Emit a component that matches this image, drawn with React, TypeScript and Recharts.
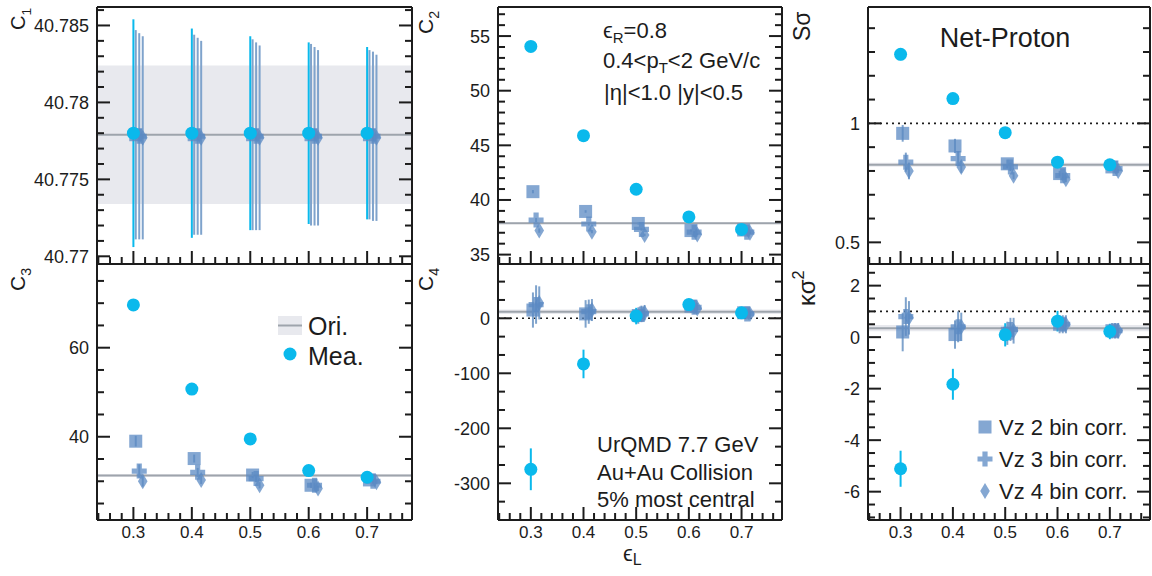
import React from 'react';
import {
    ComposedChart,
    Scatter,
    XAxis,
    YAxis,
    ErrorBar,
    ReferenceLine,
    ReferenceArea,
} from 'recharts';

// eps_L values and small x offsets of the three Vz-corrected series
const epsL = [0.3, 0.4, 0.5, 0.6, 0.7];
const vzShift = [0.004, 0.01, 0.016];
const xMajor = [0.3, 0.4, 0.5, 0.6, 0.7];

// C1
const c1Mea = [40.778, 40.778, 40.778, 40.778, 40.778];
const c1MeaErr = [0.0074, 0.0068, 0.0063, 0.0059, 0.0056];
const c1Vz2 = [40.7779, 40.7779, 40.7779, 40.7779, 40.7779];
const c1Vz2Err = [0.0068, 0.0065, 0.0062, 0.0059, 0.0055];
const c1Vz3 = [40.7778, 40.7778, 40.7778, 40.7778, 40.7778];
const c1Vz3Err = [0.0067, 0.0064, 0.0061, 0.0058, 0.0055];
const c1Vz4 = [40.7777, 40.7777, 40.7777, 40.7777, 40.7777];
const c1Vz4Err = [0.0066, 0.0063, 0.006, 0.0057, 0.0054];
const c1Ori = 40.7779;
const c1OriErr = 0.0045;

// C2
const c2Mea = [54.05, 45.88, 40.98, 38.45, 37.3];
const c2MeaErr = [0.15, 0.12, 0.1, 0.1, 0.1];
const c2Vz2 = [40.76, 38.95, 37.85, 37.2, 37.25];
const c2Vz2Err = [0.15, 0.12, 0.1, 0.1, 0.1];
const c2Vz3 = [38.16, 37.8, 37.3, 37.05, 37.05];
const c2Vz3Err = [0.2, 0.15, 0.12, 0.1, 0.1];
const c2Vz4 = [37.2, 37.1, 36.8, 36.85, 37.0];
const c2Vz4Err = [0.2, 0.15, 0.12, 0.1, 0.1];
const c2Ori = 37.88;
const c2OriErr = 0.08;

// S sigma
const ssMea = [1.29, 1.104, 0.961, 0.837, 0.826];
const ssMeaErr = [0.025, 0.015, 0.01, 0.008, 0.006];
const ssVz2 = [0.958, 0.905, 0.83, 0.789, 0.817];
const ssVz2Err = [0.035, 0.03, 0.018, 0.012, 0.008];
const ssVz3 = [0.837, 0.852, 0.817, 0.78, 0.81];
const ssVz3Err = [0.04, 0.03, 0.018, 0.012, 0.008];
const ssVz4 = [0.8, 0.817, 0.78, 0.765, 0.8];
const ssVz4Err = [0.035, 0.025, 0.015, 0.012, 0.008];
const ssOri = 0.826;
const ssOriErr = 0.008;

// C3
const c3Mea = [69.6, 50.7, 39.5, 32.4, 30.9];
const c3MeaErr = [1.2, 0.8, 0.6, 0.5, 0.4];
const c3Vz2 = [39.0, 35.1, 31.4, 29.1, 30.3];
const c3Vz2Err = [1.2, 0.9, 0.7, 0.6, 0.5];
const c3Vz3 = [32.3, 32.0, 30.6, 29.1, 30.0];
const c3Vz3Err = [1.5, 1.0, 0.8, 0.6, 0.5];
const c3Vz4 = [30.0, 30.3, 29.1, 28.4, 29.8];
const c3Vz4Err = [1.2, 0.9, 0.7, 0.6, 0.5];
const c3Ori = 31.3;
const c3OriErr = 0.3;

// C4
const c4Mea = [-274.5, -83, 4, 25, 10];
const c4MeaErr = [38, 26, 15, 10, 6];
const c4Vz2 = [15, 8, 5, 22, 10];
const c4Vz2Err = [32, 25, 15, 12, 8];
const c4Vz3 = [25, 12, 8, 20, 8];
const c4Vz3Err = [35, 22, 15, 12, 8];
const c4Vz4 = [28, 15, 10, 18, 8];
const c4Vz4Err = [30, 20, 14, 10, 8];
const c4Ori = 12;
const c4OriErr = 4;

// kappa sigma^2
const ksMea = [-5.11, -1.83, 0.09, 0.62, 0.22];
const ksMeaErr = [0.7, 0.6, 0.45, 0.4, 0.3];
const ksVz2 = [0.2, 0.1, 0.15, 0.5, 0.25];
const ksVz2Err = [0.75, 0.55, 0.45, 0.35, 0.3];
const ksVz3 = [0.8, 0.4, 0.3, 0.5, 0.25];
const ksVz3Err = [0.75, 0.6, 0.45, 0.35, 0.3];
const ksVz4 = [0.75, 0.4, 0.25, 0.5, 0.25];
const ksVz4Err = [0.65, 0.55, 0.5, 0.35, 0.3];
const ksOri = 0.35;
const ksOriErr = 0.12;

const legendVz = ['Vz 2 bin corr.', 'Vz 3 bin corr.', 'Vz 4 bin corr.'];

const steps = (a: number, b: number, s: number) => {
    const out: number[] = [];
    for (let k = 0; a + k * s <= b + 1e-9; k++) out.push(+(a + k * s).toFixed(6));
    return out;
};

const INK = '#1c1c1c';
const MEA = '#0ab9ec';
const VZ = '#5b8ac3';
const VZ_ERR = '#7fa3cc';
const ORI = '#9ea4ac';
const BAND = '#e8e9ee';
const FONT = '"Liberation Sans", Arial, Helvetica, sans-serif';

const xDomain: [number, number] = [0.2377, 0.7768];
const xTicks = steps(0.24, 0.76, 0.02);

const isIn = (list: number[], v: number) => list.some(m => Math.abs(m - v) < 1e-7);

function makeTick(side: 'left' | 'right' | 'top' | 'bottom', majors: number[], withLabel: boolean, fontSize = 18) {
    return (p: any) => {
        const { x, y, payload } = p;
        const v = payload.value;
        const major = isIn(majors, v);
        const len = major ? 13 : 7;
        let x2 = x;
        let y2 = y;
        if (side === 'left') x2 = x + len;
        if (side === 'right') x2 = x - len;
        if (side === 'top') y2 = y + len;
        if (side === 'bottom') y2 = y - len;
        return (
            <g>
                <line x1={x} y1={y} x2={x2} y2={y2} stroke={INK} strokeWidth={2} />
                {withLabel && major && side === 'left' && (
                    <text x={x - 8} y={y} dy="0.36em" textAnchor="end" fontSize={fontSize} fill={INK} fontFamily={FONT}>
                        {String(v)}
                    </text>
                )}
                {withLabel && major && side === 'bottom' && (
                    <text x={x} y={y + 18} textAnchor="middle" fontSize={17} fill={INK} fontFamily={FONT}>
                        {String(v)}
                    </text>
                )}
            </g>
        );
    };
}

const MeaDot = (p: any) => <circle cx={p.cx} cy={p.cy} r={6.5} fill={MEA} />;
const SquareDot = (p: any) => (
    <rect x={p.cx - 6.5} y={p.cy - 6.5} width={13} height={13} fill={VZ} fillOpacity={0.75} />
);
const plusPath = (cx: number, cy: number) =>
    `M${cx - 2.6},${cy - 7.5}H${cx + 2.6}V${cy - 2.6}H${cx + 7.5}V${cy + 2.6}H${cx + 2.6}V${cy + 7.5}H${cx - 2.6}V${cy + 2.6}H${cx - 7.5}V${cy - 2.6}H${cx - 2.6}Z`;
const PlusDot = (p: any) => <path d={plusPath(p.cx, p.cy)} fill={VZ} fillOpacity={0.75} />;
const diamondPath = (cx: number, cy: number) => `M${cx},${cy - 8}L${cx + 4.8},${cy}L${cx},${cy + 8}L${cx - 4.8},${cy}Z`;
const DiamondDot = (p: any) => <path d={diamondPath(p.cx, p.cy)} fill={VZ} fillOpacity={0.75} />;

const vzShapes = [SquareDot, PlusDot, DiamondDot];

const toPoints = (vals: number[], errs: number[], shift = 0) =>
    epsL.map((e, i) => ({ x: +(e + shift).toFixed(4), y: vals[i], err: errs[i] }));

interface PanelProps {
    left: number;
    top: number;
    width: number;
    height: number;
    margin: { top: number; right: number; bottom: number; left: number };
    yDomain: [number, number];
    yMajor: number[];
    yTicks: number[];
    xLabels: boolean;
    mea: number[];
    meaErr: number[];
    vz: number[][];
    vzErr: number[][];
    ori: number;
    oriErr: number;
    dotted?: number;
}

function Panel(props: PanelProps) {
    const { left, top, width, height, margin, yDomain, yMajor, yTicks, xLabels, mea, meaErr, vz, vzErr, ori, oriErr, dotted } = props;
    const axisLine = { stroke: INK, strokeWidth: 2 };
    // the axes take 1px each, so the margins shrink by one
    const m = { top: margin.top - 1, right: margin.right - 1, bottom: margin.bottom - 1, left: margin.left - 1 };
    return (
        <div style={{ position: 'absolute', left, top, width, height }}>
            <ComposedChart width={width} height={height} margin={m}>
                <XAxis
                    type="number"
                    dataKey="x"
                    domain={xDomain}
                    allowDataOverflow
                    ticks={xTicks}
                    interval={0}
                    tickSize={0}
                    tickMargin={0}
                    height={1}
                    axisLine={axisLine}
                    tick={makeTick('bottom', xMajor, xLabels)}
                />
                <XAxis
                    xAxisId="t"
                    orientation="top"
                    type="number"
                    domain={xDomain}
                    allowDataOverflow
                    ticks={xTicks}
                    interval={0}
                    tickSize={0}
                    tickMargin={0}
                    height={1}
                    axisLine={axisLine}
                    tick={makeTick('top', xMajor, false)}
                />
                <YAxis
                    type="number"
                    dataKey="y"
                    domain={yDomain}
                    allowDataOverflow
                    ticks={yTicks}
                    interval={0}
                    tickSize={0}
                    tickMargin={0}
                    width={1}
                    axisLine={axisLine}
                    tick={makeTick('left', yMajor, true)}
                />
                <YAxis
                    yAxisId="r"
                    orientation="right"
                    type="number"
                    domain={yDomain}
                    allowDataOverflow
                    ticks={yTicks}
                    interval={0}
                    tickSize={0}
                    tickMargin={0}
                    width={1}
                    axisLine={axisLine}
                    tick={makeTick('right', yMajor, false)}
                />
                <ReferenceArea y1={ori - oriErr} y2={ori + oriErr} fill={BAND} fillOpacity={1} stroke="none" ifOverflow="hidden" />
                <ReferenceLine y={ori} stroke={ORI} strokeWidth={2} />
                {dotted !== undefined && (
                    <ReferenceLine y={dotted} stroke={INK} strokeWidth={1.6} strokeDasharray="2 4" />
                )}
                {[2, 1, 0].map(k => (
                    <Scatter
                        key={k}
                        data={toPoints(vz[k], vzErr[k], vzShift[k])}
                        shape={vzShapes[k]}
                        isAnimationActive={false}
                    >
                        <ErrorBar dataKey="err" direction="y" width={0} stroke={VZ_ERR} strokeWidth={2} />
                    </Scatter>
                ))}
                <Scatter data={toPoints(mea, meaErr)} shape={MeaDot} isAnimationActive={false}>
                    <ErrorBar dataKey="err" direction="y" width={0} stroke={MEA} strokeWidth={2} />
                </Scatter>
            </ComposedChart>
        </div>
    );
}

function RotLabel({ x, y, main, sub, sup, size = 21 }: { x: number; y: number; main: string; sub?: string; sup?: string; size?: number }) {
    return (
        <text transform={`translate(${x},${y}) rotate(-90)`} fontSize={size} fill={INK} fontFamily={FONT}>
            {main}
            {sub && (
                <tspan fontSize={size * 0.68} dy={size * 0.3}>
                    {sub}
                </tspan>
            )}
            {sup && (
                <tspan fontSize={size * 0.68} dy={-size * 0.45}>
                    {sup}
                </tspan>
            )}
        </text>
    );
}

export default function App() {
    const topMargin = { top: 7, right: 0, bottom: 6, left: 0 };
    const botMargin = { top: 8, right: 0, bottom: 56, left: 0 };
    return (
        <div style={{ position: 'fixed', left: 0, top: 0, width: 1152, height: 576, background: '#fff', overflow: 'hidden' }}>
            <Panel
                left={0} top={0} width={420} height={270}
                margin={{ ...topMargin, left: 97, right: 8 }}
                yDomain={[40.7695, 40.7862]}
                yMajor={[40.77, 40.775, 40.78, 40.785]}
                yTicks={steps(40.77, 40.786, 0.001)}
                xLabels={false}
                mea={c1Mea} meaErr={c1MeaErr}
                vz={[c1Vz2, c1Vz3, c1Vz4]} vzErr={[c1Vz2Err, c1Vz3Err, c1Vz4Err]}
                ori={c1Ori} oriErr={c1OriErr}
            />
            <Panel
                left={412} top={0} width={380} height={270}
                margin={{ ...topMargin, left: 86, right: 10 }}
                yDomain={[34.14, 57.66]}
                yMajor={[35, 40, 45, 50, 55]}
                yTicks={steps(35, 57, 1)}
                xLabels={false}
                mea={c2Mea} meaErr={c2MeaErr}
                vz={[c2Vz2, c2Vz3, c2Vz4]} vzErr={[c2Vz2Err, c2Vz3Err, c2Vz4Err]}
                ori={c2Ori} oriErr={c2OriErr}
            />
            <Panel
                left={782} top={0} width={370} height={270}
                margin={{ ...topMargin, left: 86, right: 2 }}
                yDomain={[0.409, 1.489]}
                yMajor={[0.5, 1]}
                yTicks={steps(0.5, 1.4, 0.1)}
                xLabels={false}
                mea={ssMea} meaErr={ssMeaErr}
                vz={[ssVz2, ssVz3, ssVz4]} vzErr={[ssVz2Err, ssVz3Err, ssVz4Err]}
                ori={ssOri} oriErr={ssOriErr}
                dotted={1}
            />
            <Panel
                left={0} top={256} width={420} height={320}
                margin={{ ...botMargin, left: 97, right: 8 }}
                yDomain={[21.3, 78.8]}
                yMajor={[40, 60]}
                yTicks={steps(25, 75, 5)}
                xLabels
                mea={c3Mea} meaErr={c3MeaErr}
                vz={[c3Vz2, c3Vz3, c3Vz4]} vzErr={[c3Vz2Err, c3Vz3Err, c3Vz4Err]}
                ori={c3Ori} oriErr={c3OriErr}
            />
            <Panel
                left={412} top={256} width={380} height={320}
                margin={{ ...botMargin, left: 86, right: 10 }}
                yDomain={[-366.7, 98.7]}
                yMajor={[-300, -200, -100, 0]}
                yTicks={steps(-1000 / 3, 200 / 3, 100 / 3)}
                xLabels
                mea={c4Mea} meaErr={c4MeaErr}
                vz={[c4Vz2, c4Vz3, c4Vz4]} vzErr={[c4Vz2Err, c4Vz3Err, c4Vz4Err]}
                ori={c4Ori} oriErr={c4OriErr}
                dotted={0}
            />
            <Panel
                left={782} top={256} width={370} height={320}
                margin={{ ...botMargin, left: 86, right: 2 }}
                yDomain={[-7.1, 2.84]}
                yMajor={[-6, -4, -2, 0, 2]}
                yTicks={steps(-7, 2.5, 0.5)}
                xLabels
                mea={ksMea} meaErr={ksMeaErr}
                vz={[ksVz2, ksVz3, ksVz4]} vzErr={[ksVz2Err, ksVz3Err, ksVz4Err]}
                ori={ksOri} oriErr={ksOriErr}
                dotted={1}
            />

            <svg width={1152} height={576} style={{ position: 'absolute', left: 0, top: 0, pointerEvents: 'none' }}>
                {/* axis titles */}
                <RotLabel x={25} y={30} main="C" sub="1" size={20} />
                <RotLabel x={433} y={34} main="C" sub="2" />
                <RotLabel x={810} y={41} main="Sσ" size={23} />
                <RotLabel x={25} y={291} main="C" sub="3" size={21} />
                <RotLabel x={433} y={291} main="C" sub="4" />
                <RotLabel x={815} y={306} main="κσ" sup="2" size={24} />
                <text x={623} y={561} fontSize={22} fill={INK} fontFamily={FONT}>
                    ϵ<tspan fontSize={16} dy={4}>L</tspan>
                </text>

                {/* cut info */}
                <g fontSize={22} fill={INK} fontFamily={FONT}>
                    <text x={603} y={38}>
                        ϵ<tspan fontSize={15} dy={5}>R</tspan>
                        <tspan dy={-5}>=0.8</tspan>
                    </text>
                    <text x={603} y={68}>
                        0.4&lt;p<tspan fontSize={15} dy={5}>T</tspan>
                        <tspan dy={-5}>&lt;2 GeV/c</tspan>
                    </text>
                    <text x={604} y={100}>|η|&lt;1.0 |y|&lt;0.5</text>
                    <text x={597} y={452}>UrQMD 7.7 GeV</text>
                    <text x={597} y={480}>Au+Au Collision</text>
                    <text x={597} y={507}>5% most central</text>
                </g>
                <text x={1005} y={47} textAnchor="middle" fontSize={27} fill={INK} fontFamily={FONT}>
                    Net-Proton
                </text>

                {/* legend: Ori / Mea */}
                <rect x={278} y={316} width={24} height={19} fill={BAND} />
                <line x1={278} y1={325.5} x2={302} y2={325.5} stroke={ORI} strokeWidth={2} />
                <text x={308} y={335} fontSize={25} fill={INK} fontFamily={FONT}>Ori.</text>
                <circle cx={290} cy={354} r={6.5} fill={MEA} />
                <text x={308} y={365} fontSize={25} fill={INK} fontFamily={FONT}>Mea.</text>

                {/* legend: Vz corrections */}
                <SquareDot cx={985} cy={427} />
                <PlusDot cx={985} cy={459} />
                <DiamondDot cx={985} cy={491} />
                {legendVz.map((t, i) => (
                    <text key={t} x={999} y={435 + i * 32} fontSize={22} fill={INK} fontFamily={FONT}>
                        {t}
                    </text>
                ))}
            </svg>
        </div>
    );
}
